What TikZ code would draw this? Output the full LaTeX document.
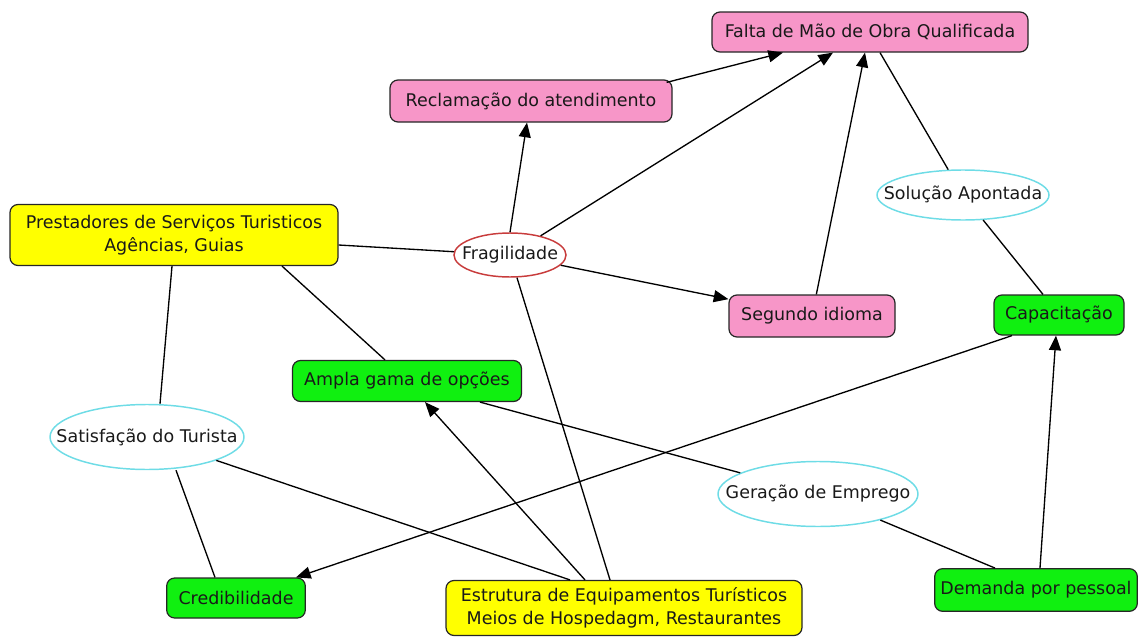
\documentclass[tikz,border=0pt]{standalone}
\usepackage{fontspec}
\setmainfont{DejaVu Sans}
\usetikzlibrary{shapes.geometric,arrows.meta,calc}
\definecolor{pinkf}{RGB}{247,150,200}
\definecolor{greenf}{RGB}{16,240,16}
\definecolor{yellowf}{RGB}{255,255,0}
\definecolor{cyanb}{RGB}{110,220,230}
\definecolor{redb}{RGB}{200,60,60}
\definecolor{txt}{RGB}{25,25,25}
\newcommand{\zw}[1]{\makebox[0pt][c]{#1}}
\begin{document}
\begin{tikzpicture}[x=0.75pt,y=-0.75pt,
  font=\fontsize{13.1pt}{17pt}\selectfont, text=txt,
  box/.style={rectangle,rounded corners=6pt,draw=black!85,line width=0.9pt,inner sep=0pt,align=center},
  pinkbox/.style={box,fill=pinkf},
  greenbox/.style={box,fill=greenf},
  yellowbox/.style={box,fill=yellowf},
  oval/.style={ellipse,draw=cyanb,line width=1.1pt,fill=white,inner sep=0pt},
  link/.style={line width=1pt,black},
  arr/.style={link,-{Triangle[length=11pt,width=9pt]}}]
\useasboundingbox (0,0) rectangle (1140,639);

\node[pinkbox,minimum width=237pt,minimum height=30pt] (falta) at (870,32) {Falta de Mão de Obra Qualificada};
\node[pinkbox,minimum width=211.5pt,minimum height=31.5pt] (recl) at (531,101) {Reclamação do atendimento};
\node[yellowbox,minimum width=246pt,minimum height=45.75pt] (prest) at (174,235) {Prestadores de Serviços Turisticos\\Agências, Guias};
\node[oval,draw=redb,minimum width=84pt,minimum height=33pt] (frag) at (510,255) {\zw{Fragilidade}};
\node[pinkbox,minimum width=124.5pt,minimum height=31.5pt] (seg) at (812,316) {Segundo idioma};
\node[oval,minimum width=129pt,minimum height=37.5pt] (sol) at (963,195) {\zw{Solução Apontada}};
\node[greenbox,minimum width=97.5pt,minimum height=30pt] (cap) at (1059,315) {Capacitação};
\node[greenbox,minimum width=171.75pt,minimum height=30.75pt] (ampla) at (407,381) {Ampla gama de opções};
\node[oval,minimum width=145.5pt,minimum height=48.75pt] (sat) at (147,437) {\zw{Satisfação do Turista}};
\node[oval,minimum width=150pt,minimum height=48.75pt] (ger) at (818,494) {\zw{Geração de Emprego}};
\node[greenbox,minimum width=104pt,minimum height=30pt] (cred) at (236,598) {Credibilidade};
\node[yellowbox,minimum width=267pt,minimum height=41.25pt] (estr) at (624,608) {Estrutura de Equipamentos Turísticos\\Meios de Hospedagm, Restaurantes};
\node[greenbox,minimum width=152pt,minimum height=32pt] (dem) at (1036,590) {Demanda por pessoal};

\draw[arr] ($(recl.north east)+(-6,3)$) -- ($(falta.south)+(-87,0)$);
\draw[arr] (frag.north) -- ($(recl.south)+(-4,0)$);
\draw[arr] (frag) -- ($(falta.south)+(-37,0)$);
\draw[arr] (seg) -- ($(falta.south)+(-5,0)$);
\draw[link] ($(falta.south)+(10,0)$) -- (sol);
\draw[link] (sol) -- ($(cap.north)+(-16,0)$);
\draw[link] ($(prest.east)+(0,10)$) -- (frag);
\draw[arr] (frag) -- (seg);
\draw[link] ($(prest.south)+(-2,0)$) -- ($(sat.north)+(13,0)$);
\draw[link] ($(prest.south)+(108,0)$) -- ($(ampla.north)+(-22,0)$);
\draw[link] ($(sat.south)+(29,0)$) -- ($(cred.north)+(-21,0)$);
\draw[link] (sat) -- ($(estr.north)+(-54,0)$);
\draw[arr] ($(estr.north)+(-39,0)$) -- ($(ampla.south)+(18,0)$);
\draw[link] ($(estr.north)+(-14,0)$) -- ($(frag.south)+(7,0)$);
\draw[arr] ($(cap.south)+(-47,0)$) -- ($(cred.north east)+(-10,0)$);
\draw[link] ($(ampla.south)+(73,0)$) -- (ger);
\draw[link] (ger) -- ($(dem.north)+(-41,0)$);
\draw[arr] ($(dem.north)+(4,0)$) -- ($(cap.south)+(-3,0)$);
\end{tikzpicture}
\end{document}
